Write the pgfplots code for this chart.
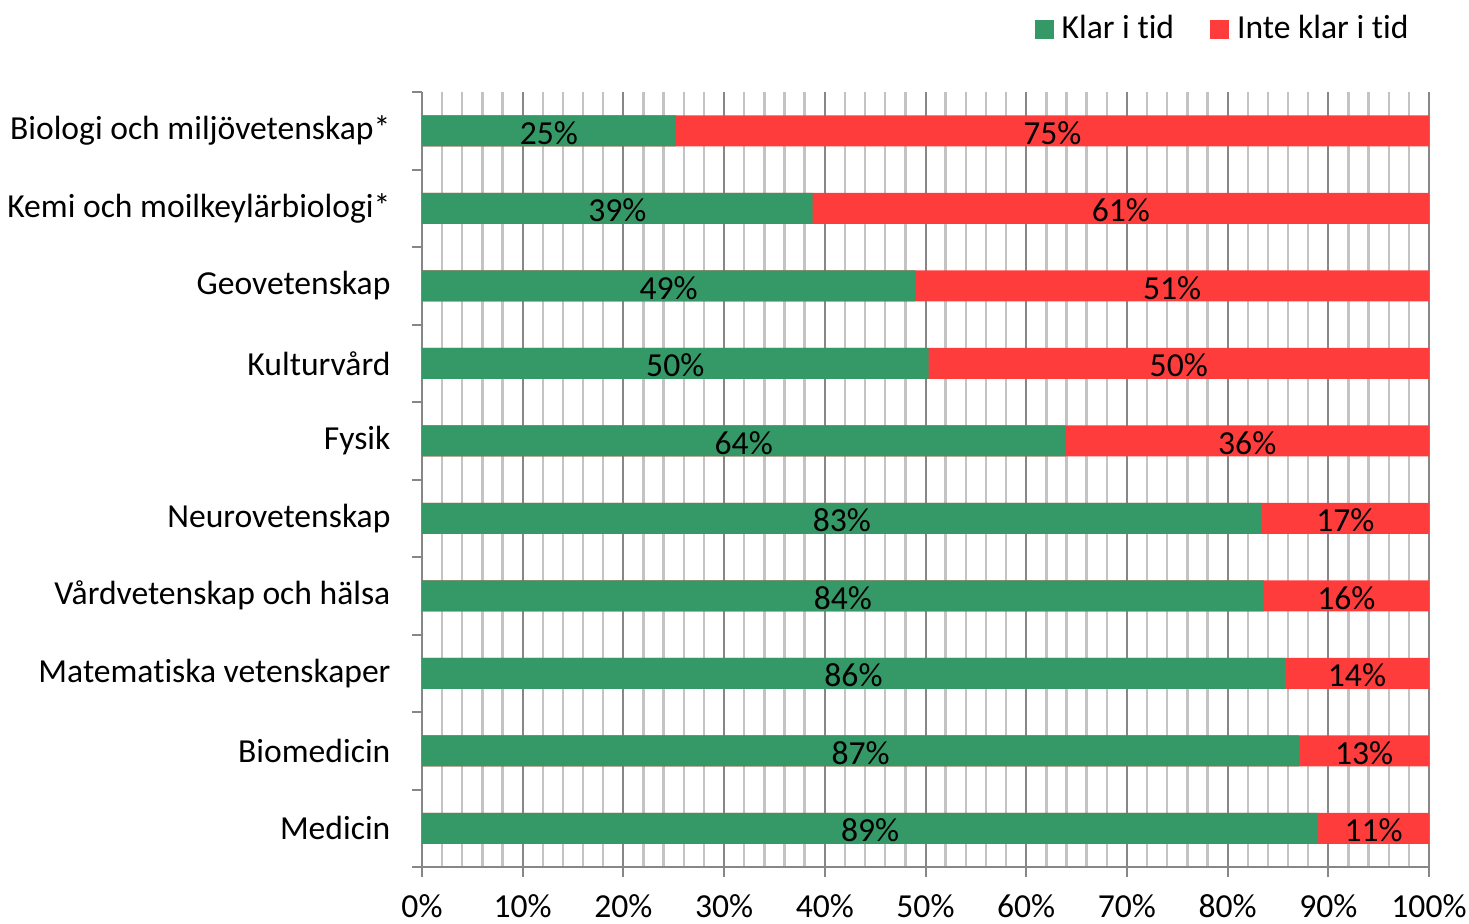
\documentclass[border=0pt]{standalone}
\usepackage{pgfplots}
\pgfplotsset{compat=1.18}
\usepackage{pgfplotstable}
\usepackage{fontspec}
\setmainfont[Ligatures={NoCommon}]{Carlito}
\definecolor{klar}{RGB}{52,153,103}
\definecolor{inte}{RGB}{255,60,60}
\definecolor{gridmaj}{RGB}{135,135,135}
\definecolor{gridmin}{RGB}{195,195,195}
\pgfplotstableread{
y klar tot lk li
0 25.2 100 25 75
1 38.8 100 39 61
2 49.0 100 49 51
3 50.3 100 50 50
4 63.9 100 64 36
5 83.4 100 83 17
6 83.6 100 84 16
7 85.7 100 86 14
8 87.1 100 87 13
9 89.0 100 89 11
}\data
\begin{document}
\fontsize{16.8}{20}\selectfont
\begin{tikzpicture}
\useasboundingbox (0,0) rectangle (734.5pt,461.5pt);
\begin{axis}[
  at={(211pt,28pt)}, anchor=south west,
  scale only axis, width=503.5pt, height=387.5pt,
  xmin=0, xmax=100, ymin=-0.5, ymax=9.5,
  y dir=reverse,
  axis x line*=bottom, axis y line*=left,
  axis line style={draw=gridmaj, line width=1pt},
  tick style={draw=gridmaj, line width=1pt},
  tick align=outside, major tick length=5pt, minor tick length=0pt,
  xtick={0,10,...,100}, minor x tick num=4,
  xmajorgrids, xminorgrids,
  major grid style={draw=gridmaj, line width=1pt},
  minor grid style={draw=gridmin, line width=1.2pt},
  xticklabel={\pgfmathprintnumber{\tick}\%},
  /pgf/number format/assume math mode=true,
  ticklabel style={font=\fontsize{16.8}{20}\selectfont},
  xticklabel style={inner ysep=0pt, yshift=-8.4pt},
  ytick={-0.5,0.5,...,9.5}, yticklabels={},
  extra y ticks={0,1,...,9},
  extra y tick labels={Biologi och miljövetenskap*,Kemi och moilkeylärbiologi*,Geovetenskap,Kulturvård,Fysik,Neurovetenskap,Vårdvetenskap och hälsa,Matematiska vetenskaper,Biomedicin,Medicin},
  extra y tick style={major tick length=0pt, yticklabel style={xshift=-10pt}},
  bar shift=0pt,
  legend columns=2,
  legend style={at={(0.984,1.081)}, anchor=east, draw=none, fill=none, inner sep=0pt,
    font=\fontsize{16.8}{20}\selectfont,
    /tikz/every even column/.append style={column sep=16pt}},
  legend cell align=left,
  legend image code/.code={\fill[#1] (0pt,-4.75pt) rectangle (9.5pt,4.75pt); \path (11.5pt,0pt);},
  every node near coord/.append style={anchor=center, font=\fontsize{16.8}{20}\selectfont, text=black, yshift=-1pt},
]
\addlegendimage{fill=klar, draw=none}
\addlegendentry{Klar i tid}
\addlegendimage{fill=inte, draw=none}
\addlegendentry{Inte klar i tid}
\addplot[xbar, bar width=15.5pt, fill=inte, draw=none, forget plot] table[x=tot, y=y] {\data};
\addplot[xbar, bar width=15.5pt, fill=klar, draw=none, forget plot] table[x=klar, y=y] {\data};
\addplot[draw=none, no markers, forget plot, nodes near coords={\pgfplotspointmeta\%}, point meta=explicit symbolic] table[x expr=\thisrow{klar}/2, y=y, meta=lk] {\data};
\addplot[draw=none, no markers, forget plot, nodes near coords={\pgfplotspointmeta\%}, point meta=explicit symbolic] table[x expr=(\thisrow{klar}+100)/2, y=y, meta=li] {\data};
\end{axis}
\end{tikzpicture}
\end{document}
